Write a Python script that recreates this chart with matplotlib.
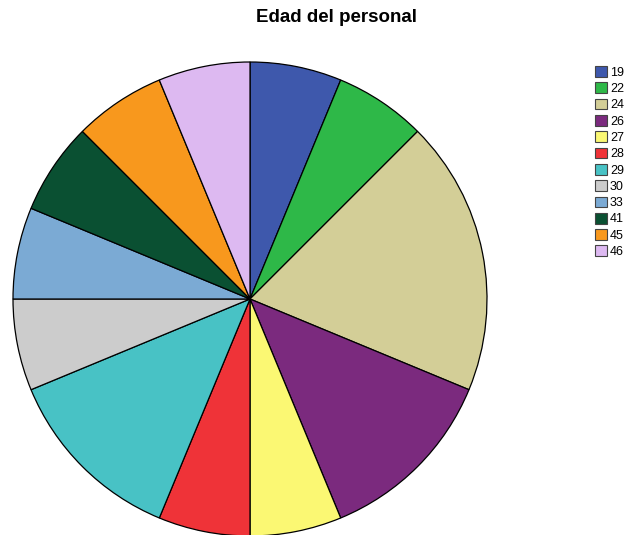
import matplotlib.pyplot as plt
from matplotlib.patches import Patch

plt.rcParams['font.family'] = ['Liberation Sans', 'DejaVu Sans']

edades = ['19', '22', '24', '26', '27', '28', '29', '30', '33', '41', '45', '46']
frecuencias = [1, 1, 3, 2, 1, 1, 2, 1, 1, 1, 1, 1]
colores = ['#3E58AC', '#2EB848', '#D3CE97', '#7B2A7E', '#FBF873', '#EF3338',
           '#48C2C5', '#CCCCCC', '#7BAAD4', '#0A5032', '#F8981D', '#DDB9F1']


def main():
    W, H = 626, 535
    fig = plt.figure(figsize=(W / 100, H / 100), dpi=100)

    # centre (250, 299), rayon 237 px
    cx, cy, r = 250, 299, 237
    ax = fig.add_axes([(cx - r) / W, (H - cy - r) / H, 2 * r / W, 2 * r / H])
    ax.pie(frecuencias, colors=colores, startangle=90, counterclock=False,
           radius=1, wedgeprops=dict(edgecolor='black', linewidth=0.9))
    ax.set_xlim(-1, 1)
    ax.set_ylim(-1, 1)
    ax.set_aspect('auto')
    ax.axis('off')

    fig.text(336 / W, 1 - 18 / H, 'Edad del personal', ha='center', va='center',
             fontsize=13.5, fontweight='bold')

    handles = [Patch(facecolor=c, edgecolor='#444444', linewidth=0.8) for c in colores]
    fig.legend(handles, edades, loc='upper left',
               bbox_to_anchor=(595 / W, 1 - 66 / H), frameon=False,
               fontsize=9, labelspacing=0.29, handlelength=0.95,
               handleheight=0.95, handletextpad=0.25, borderpad=0,
               borderaxespad=0)

    fig.savefig('out.png', dpi=100)


if __name__ == '__main__':
    main()
